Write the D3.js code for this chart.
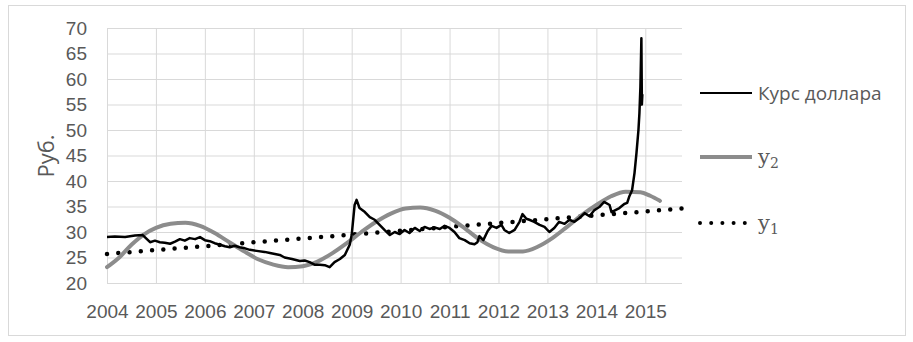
<!DOCTYPE html>
<html>
<head>
<meta charset="utf-8">
<script src="https://cdn.jsdelivr.net/npm/d3@7"></script>
<style>
  body { margin: 0; background: #fff; }
  svg { display: block; font-family: 'Open Sans', 'Liberation Sans', sans-serif; }
</style>
</head>
<body>
<div id="chart"></div>
<script>
// USD/RUB rate (decimal year, rub)
const usdYears = [2004.00, 2004.16, 2004.37, 2004.57, 2004.73, 2004.88, 2004.98, 2005.08, 2005.18, 2005.29,
  2005.39, 2005.49, 2005.59, 2005.69, 2005.80, 2005.90, 2006.00, 2006.10, 2006.20, 2006.31,
  2006.41, 2006.51, 2006.61, 2006.71, 2006.82, 2006.92, 2007.06, 2007.22, 2007.33, 2007.43,
  2007.53, 2007.63, 2007.78, 2007.94, 2008.04, 2008.14, 2008.24, 2008.35, 2008.45, 2008.55,
  2008.65, 2008.76, 2008.86, 2008.96, 2009.00, 2009.06, 2009.10, 2009.16, 2009.27, 2009.37,
  2009.47, 2009.57, 2009.67, 2009.78, 2009.88, 2009.98, 2010.08, 2010.18, 2010.29, 2010.39,
  2010.49, 2010.59, 2010.69, 2010.80, 2010.90, 2011.00, 2011.10, 2011.20, 2011.31, 2011.41,
  2011.51, 2011.57, 2011.61, 2011.69, 2011.78, 2011.86, 2011.96, 2012.06, 2012.12, 2012.22,
  2012.33, 2012.43, 2012.49, 2012.57, 2012.63, 2012.73, 2012.84, 2012.94, 2013.04, 2013.14,
  2013.24, 2013.35, 2013.45, 2013.55, 2013.65, 2013.76, 2013.86, 2013.96, 2014.06, 2014.16,
  2014.27, 2014.31, 2014.39, 2014.47, 2014.57, 2014.63, 2014.67, 2014.73, 2014.78, 2014.82,
  2014.86, 2014.88, 2014.90, 2014.92, 2014.93, 2014.94];
const usdValues = [29.0, 29.1, 29.0, 29.3, 29.4, 28.0, 28.3, 28.0, 27.9, 27.7,
  28.1, 28.6, 28.3, 28.8, 28.6, 29.0, 28.4, 28.2, 27.8, 27.5,
  27.2, 27.0, 27.3, 27.0, 26.8, 26.5, 26.3, 26.1, 25.9, 25.7,
  25.5, 25.0, 24.7, 24.3, 24.4, 24.1, 23.6, 23.6, 23.5, 23.1,
  24.1, 24.7, 25.5, 27.5, 29.4, 35.3, 36.3, 34.7, 33.9, 32.9,
  32.4, 31.4, 30.4, 29.4, 30.0, 29.6, 30.4, 29.8, 30.8, 30.2,
  31.0, 30.6, 30.9, 30.6, 31.2, 30.8, 30.0, 28.8, 28.4, 27.8,
  27.6, 28.0, 29.2, 28.4, 30.2, 31.2, 30.8, 31.4, 30.4, 29.8,
  30.4, 32.0, 33.5, 32.6, 32.4, 32.0, 31.4, 31.0, 30.0, 30.8,
  32.0, 31.6, 32.4, 32.0, 32.7, 33.7, 33.1, 34.3, 34.9, 35.9,
  35.3, 33.9, 34.3, 34.7, 35.5, 35.7, 36.9, 38.2, 41.6, 45.5,
  50.0, 53.3, 58.4, 68.0, 55.0, 57.0];

// y2 fitted curve
const y2Years = [2004.0, 2004.25, 2004.5, 2004.75, 2005.0, 2005.3, 2005.6, 2005.9, 2006.2, 2006.5,
  2006.8, 2007.1, 2007.4, 2007.7, 2008.0, 2008.3, 2008.6, 2008.9, 2009.2, 2009.5,
  2009.8, 2010.1, 2010.4, 2010.7, 2011.0, 2011.3, 2011.6, 2011.9, 2012.2, 2012.5,
  2012.8, 2013.1, 2013.4, 2013.7, 2014.0, 2014.3, 2014.6, 2014.9, 2015.1, 2015.3];
const y2Values = [23.1, 25.0, 27.5, 29.5, 30.8, 31.6, 31.8, 31.2, 29.8, 28.0,
  26.2, 24.6, 23.6, 23.1, 23.3, 24.2, 25.8, 27.8, 30.0, 32.0,
  33.6, 34.6, 34.8, 34.2, 32.8, 30.8, 28.6, 27.0, 26.2, 26.2,
  27.1, 28.8, 31.0, 33.3, 35.3, 37.0, 37.9, 37.8, 37.1, 36.1];

// y1 linear trend
const y1Years = [2004.0, 2015.75];
const y1Values = [25.7, 34.6];

const yearTicks = d3.range(2004, 2016);
const valueTicks = d3.range(20, 71, 5);

const width = 913, height = 342;
const m = { top: 28, right: 231, bottom: 59, left: 107 };
const fs = 19;
const textColor = '#595959';

const svg = d3.select('#chart').append('svg')
  .attr('width', width).attr('height', height);

svg.append('rect').attr('x', 8.5).attr('y', 5.5).attr('width', 897).attr('height', 330)
  .attr('fill', '#fff').attr('stroke', '#d9d9d9');

const x = d3.scaleLinear().domain([2004, 2015.75]).range([m.left, width - m.right]);
const y = d3.scaleLinear().domain([20, 70]).range([height - m.bottom, m.top]);

// grid
const yAxis = d3.axisLeft(y).tickValues(valueTicks).tickSize(-(width - m.left - m.right)).tickPadding(20);
const gy = svg.append('g').attr('transform', `translate(${m.left},0)`).call(yAxis);
gy.select('.domain').remove();
gy.selectAll('.tick line').attr('stroke', '#d9d9d9');
gy.selectAll('.tick text').attr('fill', textColor).attr('font-size', fs);

const xAxis = d3.axisBottom(x).tickValues(yearTicks).tickFormat(d3.format('d'))
  .tickSize(-(height - m.top - m.bottom)).tickPadding(22);
const gx = svg.append('g').attr('transform', `translate(0,${height - m.bottom})`).call(xAxis);
gx.select('.domain').remove();
gx.selectAll('.tick line').attr('stroke', '#d9d9d9');
gx.selectAll('.tick text').attr('fill', textColor).attr('font-size', fs);

svg.append('text')
  .attr('transform', `translate(54,156) rotate(-90)`)
  .attr('text-anchor', 'middle').attr('fill', textColor).attr('font-size', 22)
  .text('Руб.');

const line = d3.line().x(d => x(d[0])).y(d => y(d[1]));

// trend (dotted)
svg.append('path').datum(d3.zip(y1Years, y1Values)).attr('d', line)
  .attr('fill', 'none').attr('stroke', '#000').attr('stroke-width', 4.5)
  .attr('stroke-linecap', 'round').attr('stroke-dasharray', '0 11.3');

// y2 (grey smooth)
svg.append('path').datum(d3.zip(y2Years, y2Values))
  .attr('d', line.curve(d3.curveMonotoneX))
  .attr('fill', 'none').attr('stroke', '#8c8c8c').attr('stroke-width', 4)
  .attr('stroke-linecap', 'round');

// dollar rate
svg.append('path').datum(d3.zip(usdYears, usdValues))
  .attr('d', d3.line().x(d => x(d[0])).y(d => y(d[1])))
  .attr('fill', 'none').attr('stroke', '#000').attr('stroke-width', 2.5)
  .attr('stroke-linejoin', 'round');

// legend
const legend = svg.append('g');
const items = [
  { label: 'Курс доллара', y: 93, stroke: '#000', w: 2.2, dash: null },
  { label: 'y', sub: '2', y: 157, stroke: '#8c8c8c', w: 4, dash: null },
  { label: 'y', sub: '1', y: 223, stroke: '#000', w: 4, dash: '0 11.2' },
];
items.forEach(it => {
  legend.append('line').attr('x1', 700).attr('x2', it.dash ? 746 : 752).attr('y1', it.y).attr('y2', it.y)
    .attr('stroke', it.stroke).attr('stroke-width', it.w)
    .attr('stroke-linecap', it.dash ? 'round' : 'butt')
    .attr('stroke-dasharray', it.dash);
  const t = legend.append('text').attr('x', 758).attr('y', it.y).attr('dy', '0.35em')
    .attr('fill', textColor);
  if (it.sub) {
    t.attr('font-family', "'DejaVu Serif', 'Liberation Serif', serif").attr('font-size', 21).text(it.label);
    t.append('tspan').attr('font-size', 14).attr('dy', 4).text(it.sub);
  } else {
    t.attr('font-size', fs).text(it.label);
  }
});
</script>
</body>
</html>
